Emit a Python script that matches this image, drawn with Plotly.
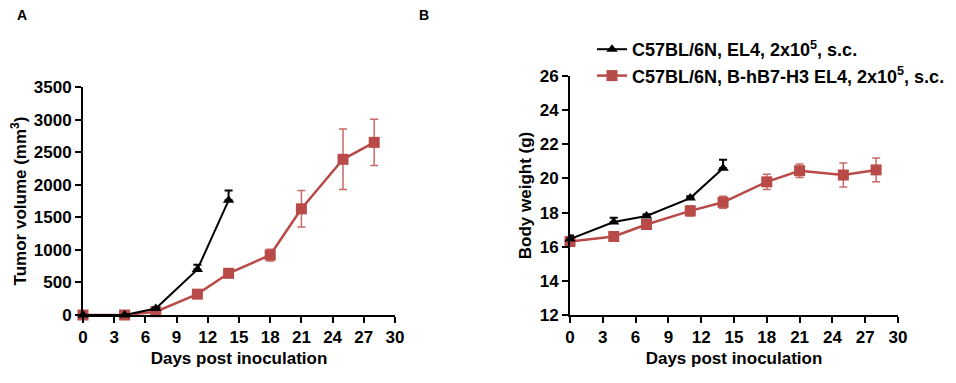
import plotly.graph_objects as go

# ---- data ----
days_el4 = [0, 4, 7, 11, 14]
days_hb7 = [0, 4, 7, 11, 14, 18, 21, 25, 28]

tumor_el4 = [0, 0, 100, 700, 1760]
tumor_el4_err = [0, 0, 20, 70, 150]
tumor_hb7 = [0, 0, 50, 320, 640, 920, 1630, 2390, 2650]
tumor_hb7_err = [0, 0, 10, 20, 30, 90, 280, 465, 355]

bw_el4 = [16.45, 17.45, 17.8, 18.85, 20.6]
bw_el4_err = [0.2, 0.25, 0.1, 0.1, 0.5]
bw_hb7 = [16.3, 16.6, 17.3, 18.1, 18.6, 19.8, 20.45, 20.2, 20.5]
bw_hb7_err = [0.2, 0.15, 0.2, 0.3, 0.35, 0.45, 0.4, 0.7, 0.7]

name_el4 = "<b>C57BL/6N, EL4, 2x10<sup>5</sup>, s.c.</b>"
name_hb7 = "<b>C57BL/6N, B-hB7-H3 EL4, 2x10<sup>5</sup>, s.c.</b>"

BLACK = "#000000"
RED = "#b84a48"
RED_ERR = "#c86a68"
FONT = "Liberation Sans"

fig = go.Figure()

def add_pair(xaxis, yaxis, y1, e1, y2, e2, show):
    fig.add_trace(go.Scatter(
        x=days_hb7, y=y2, mode="lines+markers", name=name_hb7,
        xaxis=xaxis, yaxis=yaxis, showlegend=show, legendgroup="b",
        line=dict(color=RED, width=2.5),
        marker=dict(symbol="square", size=11, color=RED),
        error_y=dict(type="data", array=e2, symmetric=True,
                     color=RED_ERR, thickness=1.5, width=4),
        cliponaxis=False,
    ))
    fig.add_trace(go.Scatter(
        x=days_el4, y=y1, mode="lines+markers", name=name_el4,
        xaxis=xaxis, yaxis=yaxis, showlegend=show, legendgroup="a",
        line=dict(color=BLACK, width=2),
        marker=dict(symbol="triangle-up", size=10, color=BLACK),
        error_y=dict(type="data", array=e1, arrayminus=[0] * len(e1),
                     symmetric=False, color=BLACK, thickness=2, width=4),
        cliponaxis=False,
    ))

add_pair("x", "y", tumor_el4, tumor_el4_err, tumor_hb7, tumor_hb7_err, False)
add_pair("x2", "y2", bw_el4, bw_el4_err, bw_hb7, bw_hb7_err, True)

# page body has an 8px margin; figure sized to fit the window
OFF = 8
W, H = 956 - OFF, 383 - OFF
def px_x(v):
    return (v - OFF) / W
def px_y(v):
    return 1 - (v - OFF) / H

TICKFONT = dict(family=FONT, size=17, color="black", weight="bold")
TITLEFONT = dict(family=FONT, size=17, color="black")

axis_common = dict(
    showline=True, linewidth=2, linecolor="black", ticks="outside",
    ticklen=6, tickwidth=2, tickcolor="black", showgrid=False, zeroline=False,
    automargin=False, tickfont=TICKFONT, title_font=TITLEFONT,
)

fig.update_layout(
    width=W, height=H, margin=dict(l=0, r=0, t=0, b=0),
    paper_bgcolor="white", plot_bgcolor="white",
    font=dict(family=FONT, color="black"),
    xaxis=dict(domain=[px_x(83), px_x(395)], range=[0, 30], dtick=3, anchor="y",
               title=dict(text="<b>Days post inoculation</b>", standoff=6),
               **axis_common),
    yaxis=dict(domain=[px_y(315), px_y(87)], range=[0, 3500], dtick=500, anchor="x",
               title=dict(text="<b>Tumor volume (mm<sup>3</sup>)</b>", standoff=4),
               **axis_common),
    xaxis2=dict(domain=[px_x(570), px_x(898)], range=[0, 30], dtick=3, anchor="y2",
                title=dict(text="<b>Days post inoculation</b>", standoff=6),
                **axis_common),
    yaxis2=dict(domain=[px_y(315), px_y(76)], range=[12, 26], dtick=2, anchor="x2",
                title=dict(text="<b>Body weight (g)</b>", standoff=4),
                **axis_common),
    legend=dict(x=px_x(592), y=px_y(31), xanchor="left", yanchor="top",
                font=dict(family=FONT, size=18, color="black"),
                tracegroupgap=11, traceorder="reversed", bgcolor="rgba(0,0,0,0)",
                itemwidth=30),
    annotations=[
        dict(text="<b>A</b>", x=px_x(22), y=px_y(15), xref="paper", yref="paper",
             xanchor="center", yanchor="middle", showarrow=False,
             font=dict(family=FONT, size=14, color="black")),
        dict(text="<b>B</b>", x=px_x(424), y=px_y(15), xref="paper", yref="paper",
             xanchor="center", yanchor="middle", showarrow=False,
             font=dict(family=FONT, size=14, color="black")),
    ],
)

fig.write_html("out.html")
